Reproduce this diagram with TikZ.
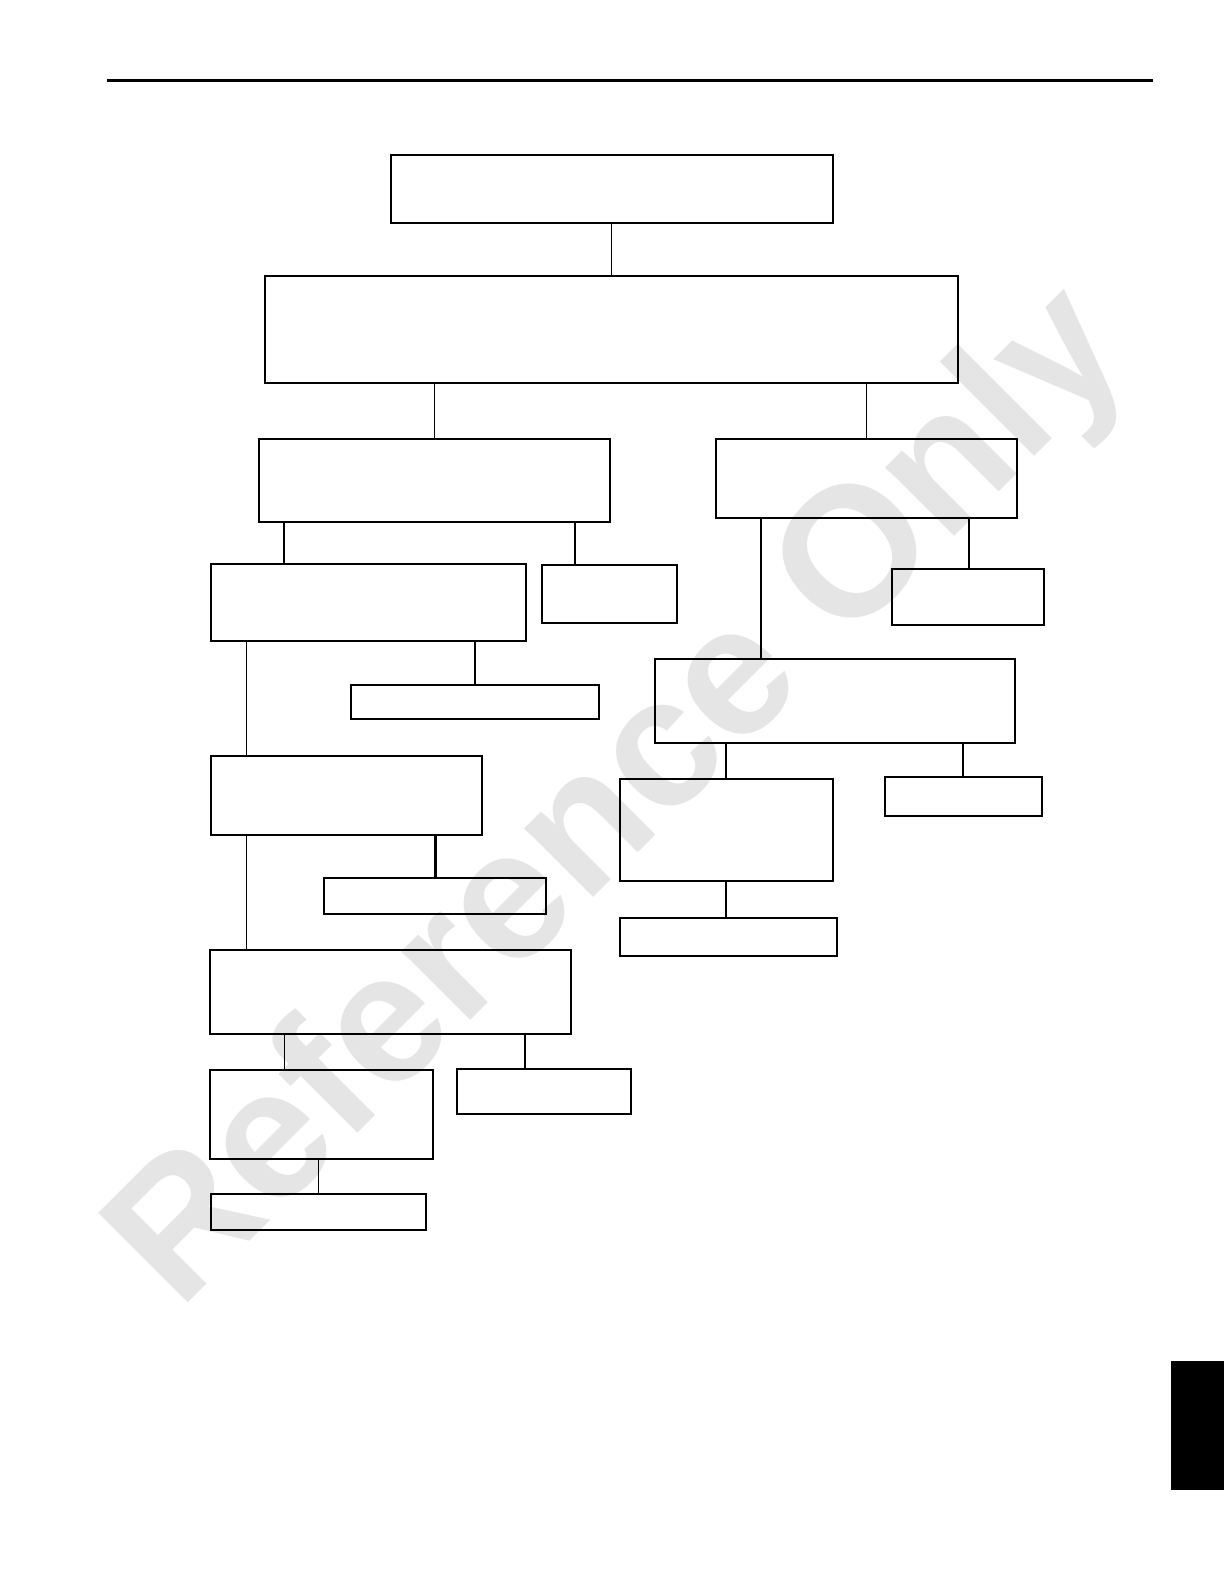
\documentclass[tikz,border=0pt]{standalone}
\usepackage{fontspec}
\newfontfamily\wmfont{Liberation Sans}
\usetikzlibrary{fit}
\tikzset{
  box/.style={draw, line width=1pt, inner sep=0pt, outer sep=0pt},
  lnA/.style={line width=0.6pt},
  lnB/.style={line width=1.1pt},
  wmark/.style={rotate=45, anchor=base west, text=black!10, inner sep=0pt,
    font=\wmfont\bfseries\fontsize{92}{92}\selectfont}
}
\newcommand{\mybox}[5]{\node[box, fit={(#2,#3) (#4,#5)}] (#1) {};}
\begin{document}
\begin{tikzpicture}[x=0.50495pt, y=-0.50495pt]
\useasboundingbox (0,0) rectangle (1212,1568);
% watermark
\node[wmark] (wm) at (177,1299) {Reference Only};
% header rule
\coordinate (r1) at (106,80);
\coordinate (r2) at (1141,80);
\draw[line width=1.5pt] (r1) -- (r2);
% side tab
\fill[black] (1159.5,1347.5) rectangle (1212,1475);
% boxes
\mybox{A}{387}{153}{825}{221}
\mybox{B}{262}{273}{948}{379}
\mybox{C}{256}{435}{604}{517}
\mybox{D}{709}{435}{1007}{513}
\mybox{E}{209}{558}{521}{635}
\mybox{S}{537}{559}{670}{617}
\mybox{F}{347}{678}{593}{712}
\mybox{G}{209}{748}{477}{827}
\mybox{H}{321}{869}{540}{905}
\mybox{I}{208}{940}{565}{1024}
\mybox{L}{208}{1059}{429}{1147}
\mybox{M}{452}{1058}{625}{1103}
\mybox{N}{209}{1182}{422}{1218}
\mybox{K}{883}{563}{1033}{619}
\mybox{J}{648}{652}{1005}{735}
\mybox{O}{614}{771}{825}{872}
\mybox{P}{876}{769}{1031}{808}
\mybox{Q}{614}{909}{829}{946}
% connectors
\draw[lnA] (A.south -| 605,0) -- (B.north -| 605,0);
\draw[lnA] (B.south -| 430,0) -- (C.north -| 430,0);
\draw[lnA] (B.south -| 858,0) -- (D.north -| 858,0);
\draw[lnB] (C.south -| 281,0) -- (E.north -| 281,0);
\draw[lnB] (C.south -| 569,0) -- (S.north -| 569,0);
\draw[lnB] (D.south -| 753,0) -- (J.north -| 753,0);
\draw[lnB] (D.south -| 959,0) -- (K.north -| 959,0);
\draw[lnA] (E.south -| 244,0) -- (G.north -| 244,0);
\draw[lnB] (E.south -| 470,0) -- (F.north -| 470,0);
\draw[lnA] (G.south -| 244,0) -- (I.north -| 244,0);
\draw[lnB] (G.south -| 431,0) -- (H.north -| 431,0);
\draw[lnA] (I.south -| 282,0) -- (L.north -| 282,0);
\draw[lnB] (I.south -| 520,0) -- (M.north -| 520,0);
\draw[lnA] (L.south -| 315,0) -- (N.north -| 315,0);
\draw[lnB] (J.south -| 719,0) -- (O.north -| 719,0);
\draw[lnB] (J.south -| 953,0) -- (P.north -| 953,0);
\draw[lnB] (O.south -| 719,0) -- (Q.north -| 719,0);
\end{tikzpicture}
\end{document}
